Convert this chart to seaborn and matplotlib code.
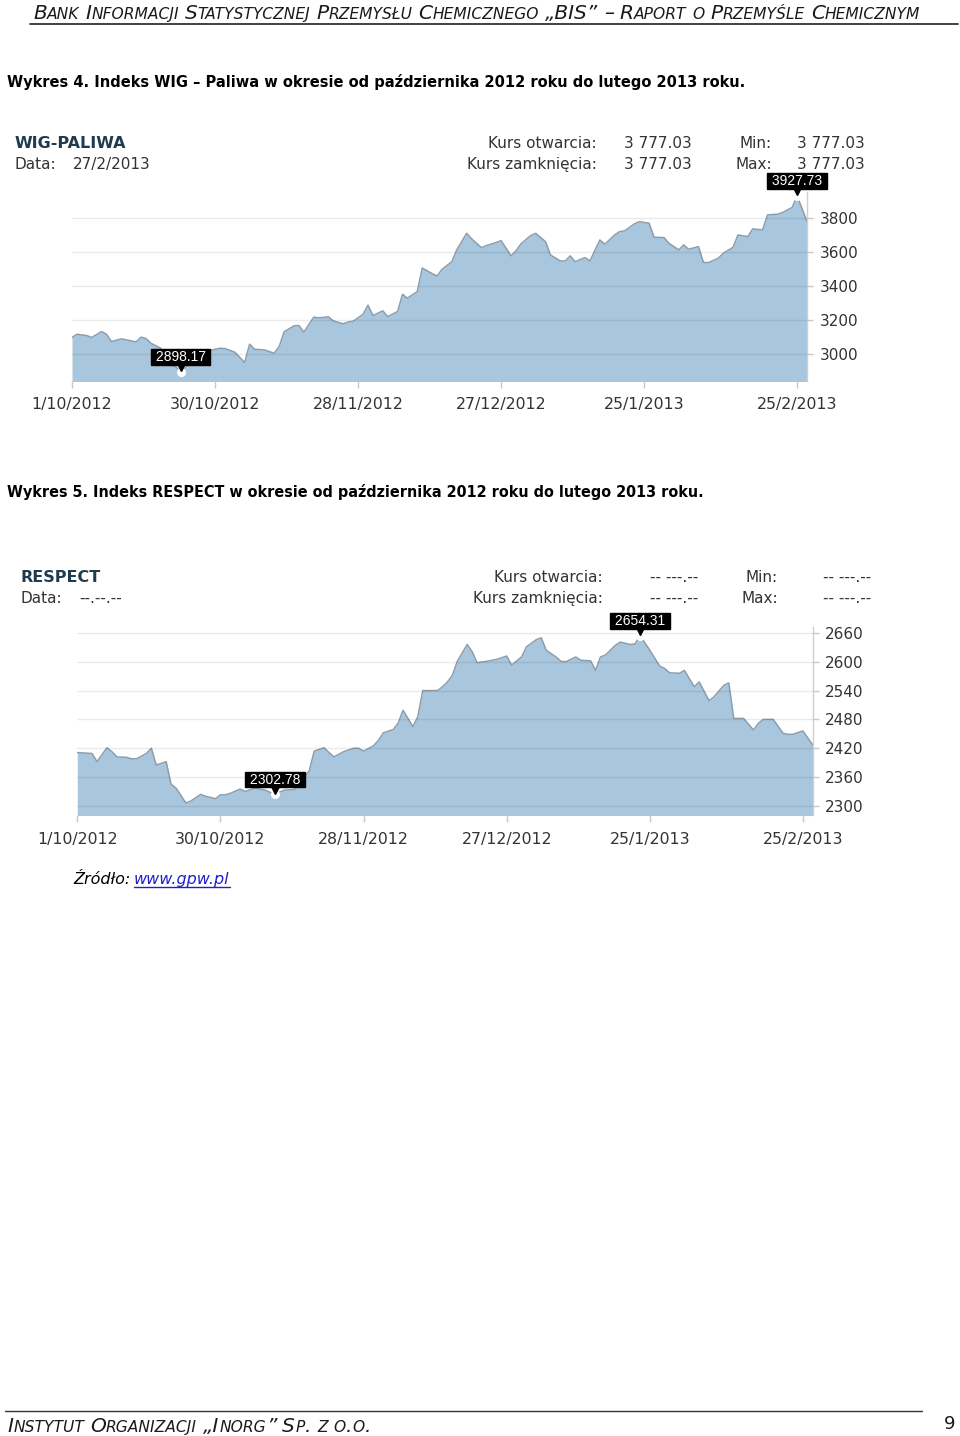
import numpy as np
import pandas as pd
import matplotlib
matplotlib.use("Agg")
import matplotlib.pyplot as plt
import matplotlib.transforms as mtransforms
from matplotlib.lines import Line2D
from matplotlib import font_manager
from matplotlib.font_manager import FontProperties
import seaborn as sns

# ---------------- data ----------------
wig_dates = ["2012-10-01", "2012-10-02", "2012-10-04", "2012-10-05", "2012-10-07", "2012-10-08", "2012-10-09",
             "2012-10-11", "2012-10-12", "2012-10-14", "2012-10-15", "2012-10-16", "2012-10-17", "2012-10-19",
             "2012-10-20", "2012-10-22", "2012-10-23", "2012-10-25", "2012-10-27", "2012-10-30", "2012-10-31",
             "2012-11-01", "2012-11-03", "2012-11-04", "2012-11-05", "2012-11-06", "2012-11-07", "2012-11-09",
             "2012-11-11", "2012-11-12", "2012-11-13", "2012-11-15", "2012-11-16", "2012-11-17", "2012-11-19",
             "2012-11-20", "2012-11-22", "2012-11-23", "2012-11-25", "2012-11-26", "2012-11-27", "2012-11-29",
             "2012-11-30", "2012-12-01", "2012-12-03", "2012-12-04", "2012-12-06", "2012-12-07", "2012-12-08",
             "2012-12-10", "2012-12-11", "2012-12-13", "2012-12-14", "2012-12-15", "2012-12-17", "2012-12-18",
             "2012-12-20", "2012-12-21", "2012-12-23", "2012-12-24", "2012-12-26", "2012-12-27", "2012-12-29",
             "2012-12-30", "2012-12-31", "2013-01-02", "2013-01-03", "2013-01-05", "2013-01-06", "2013-01-08",
             "2013-01-09", "2013-01-10", "2013-01-11", "2013-01-13", "2013-01-14", "2013-01-16", "2013-01-17",
             "2013-01-19", "2013-01-20", "2013-01-21", "2013-01-23", "2013-01-24", "2013-01-26", "2013-01-27",
             "2013-01-29", "2013-01-30", "2013-02-01", "2013-02-02", "2013-02-03", "2013-02-05", "2013-02-06",
             "2013-02-07", "2013-02-09", "2013-02-10", "2013-02-12", "2013-02-13", "2013-02-15", "2013-02-16",
             "2013-02-18", "2013-02-19", "2013-02-21", "2013-02-22", "2013-02-24", "2013-02-25", "2013-02-27"]
wig_values = [3098, 3117, 3109, 3098, 3133, 3117, 3074,
              3090, 3084, 3072, 3100, 3092, 3064, 3035,
              2938, 2928, 2898.17, 2947, 3006, 3029, 3035,
              3033, 3012, 2982, 2951, 3059, 3029, 3025,
              3006, 3045, 3131, 3166, 3168, 3129, 3217,
              3213, 3219, 3195, 3178, 3189, 3193, 3234,
              3287, 3226, 3254, 3220, 3250, 3351, 3328,
              3367, 3505, 3472, 3458, 3497, 3542, 3611,
              3708, 3676, 3624, 3636, 3654, 3665, 3576,
              3605, 3646, 3695, 3708, 3659, 3581, 3546,
              3546, 3576, 3542, 3566, 3546, 3669, 3644,
              3698, 3718, 3722, 3763, 3776, 3767, 3685,
              3683, 3650, 3611, 3640, 3615, 3630, 3538,
              3536, 3562, 3591, 3626, 3698, 3689, 3734,
              3728, 3816, 3820, 3829, 3860, 3927.73, 3777.03]

resp_dates = ["2012-10-01", "2012-10-04", "2012-10-05", "2012-10-07", "2012-10-08", "2012-10-09", "2012-10-11",
              "2012-10-12", "2012-10-13", "2012-10-15", "2012-10-16", "2012-10-17", "2012-10-19", "2012-10-20",
              "2012-10-21", "2012-10-23", "2012-10-24", "2012-10-26", "2012-10-27", "2012-10-29", "2012-10-30",
              "2012-10-31", "2012-11-01", "2012-11-03", "2012-11-04", "2012-11-06", "2012-11-07", "2012-11-08",
              "2012-11-10", "2012-11-12", "2012-11-14", "2012-11-17", "2012-11-18", "2012-11-20", "2012-11-21",
              "2012-11-22", "2012-11-24", "2012-11-26", "2012-11-27", "2012-11-28", "2012-11-30", "2012-12-01",
              "2012-12-02", "2012-12-04", "2012-12-05", "2012-12-06", "2012-12-08", "2012-12-09", "2012-12-10",
              "2012-12-12", "2012-12-13", "2012-12-14", "2012-12-15", "2012-12-16", "2012-12-17", "2012-12-19",
              "2012-12-20", "2012-12-21", "2012-12-23", "2012-12-25", "2012-12-27", "2012-12-28", "2012-12-30",
              "2012-12-31", "2013-01-02", "2013-01-03", "2013-01-04", "2013-01-06", "2013-01-07", "2013-01-08",
              "2013-01-10", "2013-01-11", "2013-01-13", "2013-01-14", "2013-01-15", "2013-01-16", "2013-01-18",
              "2013-01-19", "2013-01-21", "2013-01-22", "2013-01-23", "2013-01-25", "2013-01-27", "2013-01-28",
              "2013-01-29", "2013-01-31", "2013-02-01", "2013-02-03", "2013-02-04", "2013-02-06", "2013-02-07",
              "2013-02-09", "2013-02-10", "2013-02-11", "2013-02-13", "2013-02-15", "2013-02-16", "2013-02-17",
              "2013-02-19", "2013-02-21", "2013-02-22", "2013-02-23", "2013-02-25", "2013-02-27"]
resp_values = [2411, 2409, 2392, 2421, 2413, 2402, 2401,
               2398, 2398, 2409, 2420, 2385, 2392, 2345,
               2337, 2306, 2310, 2324, 2320, 2315, 2323,
               2323, 2326, 2335, 2330, 2337, 2335, 2333,
               2324, 2333, 2334, 2373, 2414, 2421, 2411,
               2402, 2413, 2420, 2420, 2414, 2425, 2436,
               2452, 2459, 2472, 2499, 2465, 2486, 2540,
               2540, 2540, 2548, 2558, 2572, 2601, 2636,
               2621, 2598, 2601, 2605, 2612, 2593, 2610,
               2631, 2646, 2650, 2624, 2610, 2601, 2600,
               2610, 2603, 2602, 2582, 2610, 2614, 2634,
               2641, 2636, 2637, 2654.31, 2624, 2591, 2586,
               2577, 2576, 2582, 2548, 2558, 2519, 2527,
               2551, 2556, 2482, 2482, 2458, 2472, 2480,
               2480, 2451, 2449, 2449, 2456, 2427]

tick_dates = ["2012-10-01", "2012-10-30", "2012-11-28", "2012-12-27", "2013-01-25", "2013-02-25"]
tick_labels = ["1/10/2012", "30/10/2012", "28/11/2012", "27/12/2012", "25/1/2013", "25/2/2013"]

wig_yticks = [3000, 3200, 3400, 3600, 3800]
resp_yticks = [2300, 2360, 2420, 2480, 2540, 2600, 2660]

wig_tip_dates = ["2012-10-23", "2013-02-25"]
wig_tip_texts = ["2898.17", "3927.73"]
resp_tip_dates = ["2012-11-10", "2013-01-23"]
resp_tip_texts = ["2302.78", "2654.31"]

wig_info = {"name": "WIG-PALIWA", "date": "27/2/2013", "open": "3 777.03", "close": "3 777.03",
            "min": "3 777.03", "max": "3 777.03"}
resp_info = {"name": "RESPECT", "date": "--.--.--", "open": "-- ---.--", "close": "-- ---.--",
             "min": "-- ---.--", "max": "-- ---.--"}

header_text = "Bank Informacji Statystycznej Przemysłu Chemicznego „BIS” – Raport o Przemyśle Chemicznym"
footer_text = "Instytut Organizacji „Inorg” Sp. z o.o."
caption1 = "Wykres 4. Indeks WIG – Paliwa w okresie od października 2012 roku do lutego 2013 roku."
caption2 = "Wykres 5. Indeks RESPECT w okresie od października 2012 roku do lutego 2013 roku."

# ---------------- style ----------------
sns.set_theme(style="white")
plt.rcParams["font.family"] = ["DejaVu Sans"]

FILL = "#a8c6dd"
LINE = "#8c9eae"
TXT = "#333333"

W, H = 960, 1436
fig = plt.figure(figsize=(W / 100, H / 100), dpi=100)
fig.patch.set_facecolor("white")
renderer = fig.canvas.get_renderer()


def pick_caption_font():
    best = None
    for f in font_manager.fontManager.ttflist:
        nm = f.name
        narrow = ("Narrow" in nm or "Condensed" in nm or str(f.stretch) in ("condensed", "semi-condensed", "500")
                  or "Condensed" in f.fname or "Narrow" in f.fname)
        bold = (f.weight in ("bold", 700, "700") or "Bold" in f.fname)
        italic = f.style != "normal" or "Oblique" in f.fname or "Italic" in f.fname
        if narrow and bold and not italic:
            score = 2 if "Liberation" in nm else 1
            if best is None or score > best[0]:
                best = (score, f.fname)
    if best is not None:
        return FontProperties(fname=best[1])
    return FontProperties(family="Liberation Sans", weight="bold")


cap_fp = pick_caption_font()


def fx(x):
    return x / W


def fy(y):
    return 1 - y / H


def fit_text(x, y, s, target_w, size, **kw):
    t = fig.text(fx(x), fy(y), s, fontsize=size, va="baseline", ha="left", **kw)
    w = t.get_window_extent(renderer=renderer).width
    t.set_fontsize(size * target_w / w)
    return t


def small_caps(x0, y, s, big, small, target_w=None, **kw):
    def layout(scale):
        x = x0
        arts = []
        tokens = []
        cur, cur_low = "", None
        for ch in s:
            if ch == " ":
                if cur:
                    tokens.append((cur, cur_low))
                tokens.append((" ", None))
                cur, cur_low = "", None
                continue
            low = ch.islower()
            if cur and low != cur_low:
                tokens.append((cur, cur_low))
                cur = ""
            cur += ch
            cur_low = low
        if cur:
            tokens.append((cur, cur_low))
        for tok, low in tokens:
            if tok == " ":
                x += 0.318 * big * scale * 100 / 72 * 0.85
                continue
            size = (small if low else big) * scale
            a = fig.text(fx(x), fy(y), tok.upper(), fontsize=size, va="baseline", ha="left", **kw)
            x += a.get_window_extent(renderer=renderer).width + 0.3
            arts.append(a)
        return x - x0, arts

    w, arts = layout(1.0)
    if target_w is not None:
        for a in arts:
            a.remove()
        w, arts = layout(target_w / w)
    return arts


def draw_chart(left, top, right, bottom, dates, values, ylim, yticks, tip_dates, tip_texts):
    ax = fig.add_axes([fx(left), fy(bottom), (right - left) / W, (bottom - top) / H])
    df = pd.DataFrame({"date": pd.to_datetime(dates), "value": values})
    ax.fill_between(df["date"], df["value"], ylim[0] - 200, color=FILL, lw=0, zorder=1)
    sns.lineplot(data=df, x="date", y="value", ax=ax, color=LINE, lw=1.1, zorder=2)
    ax.set_xlim(df["date"].iloc[0], df["date"].iloc[-1])
    ax.set_ylim(*ylim)
    ax.set_xlabel("")
    ax.set_ylabel("")
    ax.set_yticks(yticks)
    ax.yaxis.tick_right()
    ax.set_xticks(pd.to_datetime(tick_dates))
    ax.set_xticklabels(tick_labels)
    ax.grid(axis="y", color="black", alpha=0.08, lw=1)
    ax.grid(axis="x", visible=False)
    ax.set_axisbelow(False)
    for sp in ["top", "left", "bottom"]:
        ax.spines[sp].set_visible(False)
    ax.spines["right"].set_color("#cfcfcf")
    ax.spines["right"].set_linewidth(1)
    ax.tick_params(axis="y", right=True, left=False, length=4, width=1, color="#c8c8c8",
                   labelcolor=TXT, labelsize=11, pad=5)
    ax.tick_params(axis="x", bottom=True, length=5, width=1, color="#c8c8c8",
                   labelcolor=TXT, labelsize=11.3, pad=7)
    ax.set_facecolor("white")
    up = mtransforms.offset_copy(ax.transData, fig=fig, x=0, y=3.2, units="points")
    for d, t in zip(tip_dates, tip_texts):
        d = pd.Timestamp(d)
        v = df.loc[df["date"] == d, "value"].iloc[0]
        ax.plot([d], [v], marker="o", ms=5.5, mfc="white", mec="white", zorder=4, clip_on=False)
        ax.plot([d], [v], marker="v", ms=5.5, color="black", transform=up, zorder=5, clip_on=False)
        ax.annotate(f" {t} ", xy=(d, v), xytext=(0, 5.5), textcoords="offset points",
                    ha="center", va="bottom", color="white", fontsize=10, family="Liberation Sans",
                    bbox=dict(boxstyle="square,pad=0.05", fc="black", ec="black"),
                    zorder=6, annotation_clip=False)
    return ax


def draw_info(dx, dy, info, val_right, cur_right):
    y1, y2 = 148 + dy, 169 + dy
    fig.text(fx(15 + dx), fy(y1), info["name"], fontsize=11.5, fontweight="bold", color="#1f3b4d",
             va="baseline", ha="left")
    fig.text(fx(15 + dx), fy(y2), "Data:", fontsize=11, color=TXT, va="baseline", ha="left")
    fig.text(fx(73 + dx), fy(y2), info["date"], fontsize=11, color=TXT, va="baseline", ha="left")
    fig.text(fx(597 + dx), fy(y1), "Kurs otwarcia:", fontsize=11, color=TXT, va="baseline", ha="right")
    fig.text(fx(597 + dx), fy(y2), "Kurs zamknięcia:", fontsize=11, color=TXT, va="baseline", ha="right")
    fig.text(fx(val_right), fy(y1), info["open"], fontsize=11, color=TXT, va="baseline", ha="right")
    fig.text(fx(val_right), fy(y2), info["close"], fontsize=11, color=TXT, va="baseline", ha="right")
    fig.text(fx(772 + dx), fy(y1), "Min:", fontsize=11, color=TXT, va="baseline", ha="right")
    fig.text(fx(772 + dx), fy(y2), "Max:", fontsize=11, color=TXT, va="baseline", ha="right")
    fig.text(fx(cur_right), fy(y1), info["min"], fontsize=11, color=TXT, va="baseline", ha="right")
    fig.text(fx(cur_right), fy(y2), info["max"], fontsize=11, color=TXT, va="baseline", ha="right")


# ---------------- header / footer ----------------
small_caps(33, 19, header_text, 12.5, 9.6, target_w=889, style="italic", color="#1a1a1a")
fig.add_artist(Line2D([fx(30), fx(958)], [fy(23.5), fy(23.5)], color="#333333", lw=1.3))
small_caps(7, 1432, footer_text, 12.5, 9.6, target_w=365, style="italic", color="#1a1a1a")
fig.add_artist(Line2D([fx(5), fx(922)], [fy(1411), fy(1411)], color="#333333", lw=1.0))
fig.text(fx(944), fy(1429), "9", fontsize=13, color="#1a1a1a", va="baseline", ha="left")

# ---------------- captions ----------------
fit_text(7, 87, caption1, 733, 14.5, fontproperties=cap_fp, color="black")
fit_text(7, 497, caption2, 694, 14.5, fontproperties=cap_fp, color="black")

# ---------------- chart 1 ----------------
draw_info(0, 0, wig_info, 692, 865)
draw_chart(72, 192, 807, 380.5, wig_dates, wig_values, (2846, 3950), wig_yticks,
           wig_tip_dates, wig_tip_texts)

# ---------------- chart 2 ----------------
draw_info(6, 434, resp_info, 698, 871)
draw_chart(77.3, 626.7, 812.7, 815, resp_dates, resp_values, (2281, 2673), resp_yticks,
           resp_tip_dates, resp_tip_texts)

# ---------------- source ----------------
src = fig.text(fx(73), fy(884), "Źródło:", fontsize=11.5, style="italic", color="black",
               va="baseline", ha="left")
url = fig.text(fx(134), fy(884), "www.gpw.pl", fontsize=11.5, style="italic", color="#1f1fcc",
               va="baseline", ha="left")
uw = url.get_window_extent(renderer=renderer)
fig.add_artist(Line2D([uw.x0 / W, uw.x1 / W], [fy(887), fy(887)], color="#1f1fcc", lw=1))

fig.savefig("out.png", dpi=100, facecolor="white")
